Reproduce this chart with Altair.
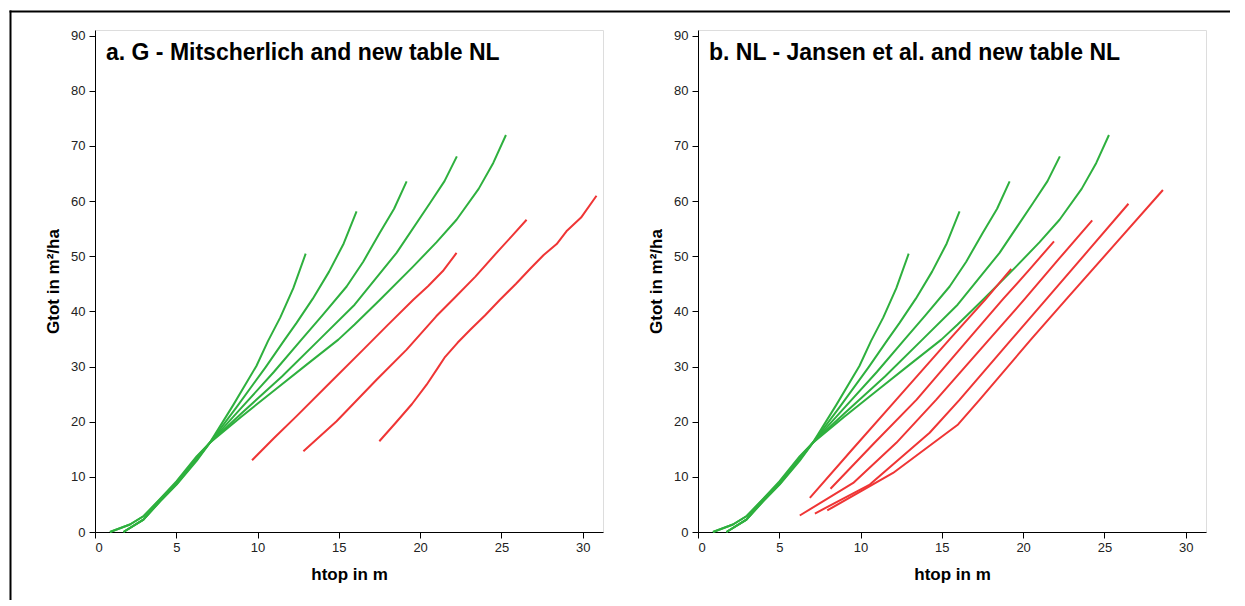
import altair as alt
import pandas as pd

FONT = "Liberation Sans"
GREEN = "#2eb03e"
RED = "#ef3535"

# ---- green curves: new table NL (identical in both panels) ----
g1_x = [1.75, 2.98, 4.0, 5.02, 6.25, 7.07, 8.5, 9.93, 10.64, 11.4, 12.2, 12.96]
g1_y = [0, 2.26, 5.5, 8.6, 12.9, 16.2, 23.0, 30.1, 34.6, 38.9, 44.2, 50.45]
g2_x = [1.75, 2.98, 4.0, 5.02, 6.25, 7.07, 8.7, 10.5, 11.67, 12.4, 13.4, 14.4, 15.3, 16.09]
g2_y = [0, 2.26, 5.6, 8.7, 13.1, 16.2, 22.6, 29.9, 34.87, 37.9, 42.3, 47.2, 52.3, 58.1]
g3_x = [1.75, 2.98, 4.0, 5.02, 6.25, 7.07, 9.0, 11.0, 12.7, 14.0, 15.48, 16.5, 17.53, 18.4, 19.17]
g3_y = [0, 2.26, 5.7, 8.8, 13.3, 16.2, 22.5, 29.0, 34.87, 39.3, 44.5, 49.0, 54.3, 58.6, 63.55]
g4_x = [0.92, 2.15, 3.0, 4.0, 5.02, 6.25, 7.07, 9.0, 11.5, 13.8, 15.97, 18.55, 20.6, 21.5, 22.26]
g4_y = [0, 1.36, 2.9, 5.9, 9.0, 13.5, 16.2, 21.5, 28.2, 34.87, 41.2, 50.6, 59.6, 63.6, 68.1]
g5_x = [0.92, 2.15, 3.0, 4.0, 5.02, 6.25, 7.07, 9.0, 11.0, 13.0, 14.97, 15.97, 17.5, 19.58, 21.0, 22.24, 23.6, 24.5, 25.28]
g5_y = [0, 1.36, 2.9, 6.0, 9.2, 13.7, 16.2, 20.9, 25.6, 30.3, 34.87, 37.6, 42.0, 48.15, 52.5, 56.6, 62.2, 66.9, 71.96]

# ---- red curves, panel a: G - Mitscherlich ----
ra1_x = [9.66, 11.0, 12.4, 14.5, 16.5, 18.0, 19.58, 20.5, 21.4, 22.24]
ra1_y = [13.0, 17.0, 21.0, 27.2, 33.06, 37.5, 42.1, 44.6, 47.3, 50.58]
ra2_x = [12.82, 14.86, 17.32, 19.17, 20.99, 22.14, 23.4, 24.7, 25.6, 26.55]
ra2_y = [14.64, 20.07, 27.6, 33.06, 39.1, 42.5, 46.3, 50.6, 53.5, 56.6]
ra3_x = [17.49, 18.5, 19.5, 20.4, 21.1, 21.5, 22.3, 23.1, 24.0, 24.91, 25.9, 26.8, 27.6, 28.4, 29.0, 29.9, 30.85]
ra3_y = [16.45, 19.8, 23.2, 26.7, 29.8, 31.6, 34.3, 36.7, 39.3, 42.1, 45.0, 47.8, 50.2, 52.2, 54.5, 57.0, 60.96]

# ---- red curves, panel b: NL - Jansen et al. ----
rb1_x = [6.88, 9.5, 12.2, 15.5, 17.7, 19.27]
rb1_y = [6.2, 15.0, 24.0, 35.0, 42.2, 47.7]
rb2_x = [8.15, 10.8, 13.45, 16.64, 18.76, 20.4, 21.9]
rb2_y = [7.83, 16.0, 24.0, 34.96, 42.2, 47.6, 52.7]
rb3_x = [6.26, 9.55, 12.2, 14.66, 17.93, 20.09, 22.2, 24.25]
rb3_y = [2.99, 8.9, 16.16, 24.0, 34.96, 42.2, 49.5, 56.5]
rb4_x = [7.19, 10.57, 14.25, 16.1, 19.3, 21.43, 24.0, 26.48]
rb4_y = [3.35, 8.6, 18.0, 24.0, 34.96, 42.2, 51.0, 59.5]
rb5_x = [7.95, 12.0, 16.0, 17.33, 20.5, 22.66, 25.6, 28.6]
rb5_y = [3.9, 10.7, 19.5, 24.0, 34.96, 42.2, 52.0, 62.0]

x_ticks = [0, 5, 10, 15, 20, 25, 30]
y_ticks = [0, 10, 20, 30, 40, 50, 60, 70, 80, 90]
title_a = "a. G - Mitscherlich and new table NL"
title_b = "b. NL - Jansen et al. and new table NL"
x_title = "htop in m"
y_title = "Gtot in m²/ha"

greens = [(g1_x, g1_y), (g2_x, g2_y), (g3_x, g3_y), (g4_x, g4_y), (g5_x, g5_y)]
reds_a = [(ra1_x, ra1_y), (ra2_x, ra2_y), (ra3_x, ra3_y)]
reds_b = [(rb1_x, rb1_y), (rb2_x, rb2_y), (rb3_x, rb3_y), (rb4_x, rb4_y), (rb5_x, rb5_y)]


def make_df(reds):
    rows = []
    for k, (xs, ys) in enumerate(greens):
        for i, (x, y) in enumerate(zip(xs, ys)):
            rows.append({"series": f"g{k}", "col": GREEN, "i": i, "x": x, "y": y})
    for k, (xs, ys) in enumerate(reds):
        for i, (x, y) in enumerate(zip(xs, ys)):
            rows.append({"series": f"r{k}", "col": RED, "i": i, "x": x, "y": y})
    return pd.DataFrame(rows)


W, H = 508, 502


def panel(reds, title, border=False):
    df = make_df(reds)
    xenc = alt.X("x:Q", scale=alt.Scale(domain=[0, 31.25], nice=False, zero=False),
                 axis=alt.Axis(values=x_ticks, title=x_title, grid=False, domainColor="black",
                               tickColor="black", tickSize=6, labelFontSize=13, labelColor="#222",
                               labelFont=FONT, titleFont=FONT, titleFontSize=17, titleFontWeight="bold",
                               titleColor="black", labelPadding=3, titlePadding=12))
    yenc = alt.Y("y:Q", scale=alt.Scale(domain=[0, 91], nice=False, zero=False),
                 axis=alt.Axis(values=y_ticks, title=y_title, grid=False, domainColor="black",
                               tickColor="black", tickSize=6, labelFontSize=13, labelColor="#222",
                               labelFont=FONT, titleFont=FONT, titleFontSize=17, titleFontWeight="bold",
                               titleColor="black", labelPadding=4, titlePadding=8))
    lines = alt.Chart(df).mark_line(strokeWidth=2, strokeJoin="round").encode(
        x=xenc, y=yenc, detail="series:N", order="i:Q",
        color=alt.Color("col:N", scale=None))
    txt = alt.Chart(pd.DataFrame({"t": [title]})).mark_text(
        align="left", baseline="middle", font=FONT, fontSize=23, fontWeight="bold", color="black"
    ).encode(text="t:N", x=alt.value(11), y=alt.value(23))
    layers = [lines, txt]
    if border:
        one = pd.DataFrame({"a": [0]})
        bv = alt.Chart(one).mark_rule(color="black", strokeWidth=2, clip=False).encode(
            x=alt.value(-84.5), y=alt.value(-19.5), y2=alt.value(570))
        bh = alt.Chart(one).mark_rule(color="black", strokeWidth=2, clip=False).encode(
            y=alt.value(-18.5), x=alt.value(-85.5), x2=alt.value(1135))
        layers += [bv, bh]
    return alt.layer(*layers).properties(width=W, height=H)


left = panel(reds_a, title_a, border=True)
right = panel(reds_b, title_b)

chart = alt.hconcat(left, right, spacing=95, bounds="flush").properties(
    padding={"left": 0, "top": 1, "right": 0, "bottom": 0}
).configure_view(stroke="#8a8a8a", strokeWidth=1.5).configure(background="white")

chart.save("out.html", embed_options={"renderer": "svg", "actions": False})
